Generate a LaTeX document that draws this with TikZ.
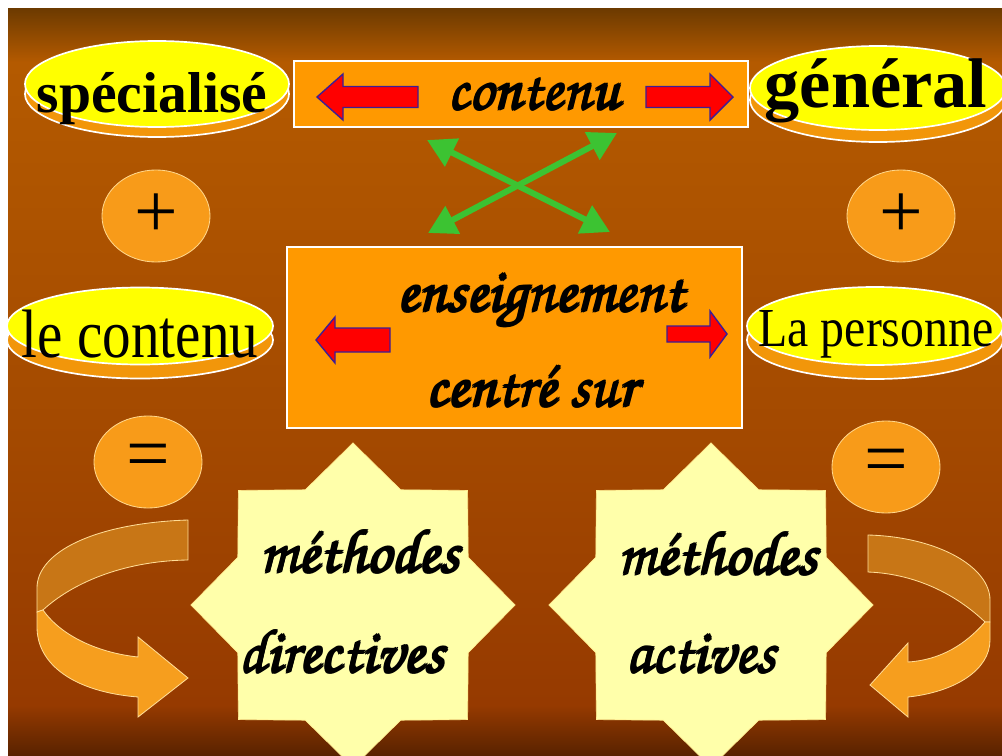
\documentclass[tikz,border=0pt]{standalone}
\usepackage[T1]{fontenc}
\usepackage{fontspec}
\setmainfont{Liberation Serif}
\usetikzlibrary{shapes.geometric, arrows.meta}

\definecolor{bgtop}{RGB}{108,58,0}
\definecolor{bglight}{RGB}{180,90,0}
\definecolor{bgmid}{RGB}{164,74,0}
\definecolor{bgdeep}{RGB}{150,58,0}
\definecolor{bgbot}{RGB}{88,34,0}
\definecolor{pillyellow}{RGB}{255,255,0}
\definecolor{pillorange}{RGB}{242,150,10}
\definecolor{discorange}{RGB}{248,155,25}
\definecolor{discedge}{RGB}{255,215,140}
\definecolor{boxorange}{RGB}{255,153,0}
\definecolor{arrowred}{RGB}{255,0,0}
\definecolor{arrowedge}{RGB}{60,30,150}
\definecolor{crossgreen}{RGB}{60,195,50}
\definecolor{starfill}{RGB}{255,255,170}
\definecolor{ribbonback}{RGB}{200,118,22}
\definecolor{ribbonfront}{RGB}{246,158,30}
\definecolor{ribbonedge}{RGB}{255,220,150}

\newcommand{\chorus}{\fontencoding{T1}\fontfamily{pzc}\fontseries{mb}\fontshape{it}\selectfont}
\newcommand{\inked}[1]{\makebox[0pt][l]{\kern1.1pt#1}\makebox[0pt][l]{\raisebox{1pt}{#1}}\makebox[0pt][l]{\raisebox{1pt}{\kern1.1pt#1}}\makebox[0pt][l]{\raisebox{.5pt}{\kern.55pt#1}}#1}

\tikzset{
  pill/.style={ellipse, fill=pillyellow, draw=white, line width=1.2pt, inner sep=0pt},
  pillbase/.style={ellipse, fill=pillorange, draw=white, line width=1.2pt, inner sep=0pt},
  disc/.style={ellipse, fill=discorange, draw=discedge, line width=0.6pt, minimum width=2.7cm, minimum height=2.3cm, inner sep=0pt, font=\fontsize{55}{60}\selectfont},
  panel/.style={rectangle, fill=boxorange, draw=white, line width=2pt, inner sep=0pt},
  blockarrow/.style={fill=arrowred, draw=arrowedge, line width=1pt},
  crossarrow/.style={draw=crossgreen, line width=4.3pt, {Triangle[length=0.7cm,width=0.75cm]}-{Triangle[length=0.7cm,width=0.75cm]}},
  badge/.style={star, star points=8, star point ratio=1.3, fill=starfill, draw=starfill!85!orange, line width=0.5pt, inner sep=0pt, minimum size=8.1cm},
  ribbon/.style={draw=ribbonedge, line width=0.6pt},
  script/.style={anchor=base, inner sep=0pt, font=\chorus\fontsize{44}{50}\selectfont},
  serif/.style={anchor=base, inner sep=0pt}
}

\begin{document}
\begin{tikzpicture}[x=0.025cm, y=-0.025cm]
\useasboundingbox (0,0) rectangle (1002,756);
\clip (0,0) rectangle (1002,756);

% slide background
\fill[white] (0,0) rectangle (1002,756);
\fill[bgmid] (8,8) rectangle (1002,756);
\shade[top color=bgtop, bottom color=bglight] (8,8) rectangle (1002,62);
\shade[top color=bglight, bottom color=bgmid] (8,62) rectangle (1002,420);
\shade[top color=bgmid, bottom color=bgdeep] (8,420) rectangle (1002,705);
\shade[top color=bgdeep, bottom color=bgbot] (8,705) rectangle (1002,756);

% top row
\node[pillbase, minimum width=6.6cm, minimum height=2.15cm] (specbase) at (157,94) {};
\node[pill, minimum width=6.6cm, minimum height=2.15cm] (spec) at (157,84) {};
\node[serif, font=\bfseries\fontsize{41}{46}\selectfont] (spectxt) at (152,112) {spécialisé};

\node[pillbase, minimum width=6.4cm, minimum height=2.1cm] (genbase) at (878,100) {};
\node[pill, minimum width=6.4cm, minimum height=2.1cm] (gen) at (878,88) {};
\node[serif, font=\bfseries\fontsize{50}{56}\selectfont] (gentxt) at (876,107) {général};

\node[panel, minimum width=11.35cm, minimum height=1.65cm] (topbox) at (521,94) {};
\node[script] (toptxt) at (533,110) {\inked{contenu}};
\filldraw[blockarrow] (418,86.5) -- (343,86.5) -- (343,74) -- (317,97) -- (343,120) -- (343,107.5) -- (418,107.5) -- cycle;
\filldraw[blockarrow] (646,86.5) -- (710,86.5) -- (710,74) -- (733,97) -- (710,120) -- (710,107.5) -- (646,107.5) -- cycle;

% green cross
\coordinate (xa1) at (427,140);
\coordinate (xa2) at (610,232);
\coordinate (xb1) at (428,233);
\coordinate (xb2) at (617,133);
\draw[crossarrow] (xa1) -- (xa2);
\draw[crossarrow] (xb1) -- (xb2);

% plus signs
\node[disc] (plusl) at (156,216) {+};
\node[disc] (plusr) at (901,216) {+};

% middle row
\node[pillbase, minimum width=6.65cm, minimum height=1.925cm] (contbase) at (140,340) {};
\node[pill, minimum width=6.65cm, minimum height=1.925cm] (cont) at (140,326) {};
\node[serif, font=\fontsize{40.6}{46}\selectfont] (conttxt) at (140,357) {\scalebox{1}[1.2]{le contenu}};

\node[pillbase, minimum width=6.4cm, minimum height=1.95cm] (persbase) at (875,340) {};
\node[pill, minimum width=6.4cm, minimum height=1.95cm] (pers) at (875,326) {};
\node[serif, font=\fontsize{34}{40}\selectfont] (perstxt) at (876,346) {\scalebox{1}[1.15]{La personne}};

\node[panel, minimum width=11.375cm, minimum height=4.525cm] (midbox) at (514.5,337.5) {};
\node[script] (midtxta) at (540,312) {\inked{enseignement}};
\node[script] (midtxtb) at (531,407) {\inked{centr\'e sur}};
\filldraw[blockarrow] (390,328) -- (335,328) -- (335,317) -- (316,340) -- (335,363) -- (335,352) -- (390,352) -- cycle;
\filldraw[blockarrow] (667,326) -- (710,326) -- (710,311) -- (727,334) -- (710,357) -- (710,342) -- (667,342) -- cycle;

% equal signs
\node[disc] (eql) at (148,462) {=};
\node[disc] (eqr) at (886,467) {=};

% curved ribbons
\filldraw[ribbon, fill=ribbonback] (188,520) .. controls (95,523) and (37,552) .. (37,588) -- (37,612) -- (43,610) .. controls (70,585) and (120,561) .. (188,560) -- cycle;
\filldraw[ribbon, fill=ribbonfront] (43,610) .. controls (62,637) and (100,653) .. (138,657) -- (138,637) -- (188,678) -- (138,717) -- (138,697) .. controls (75,692) and (37,665) .. (37,627) -- (37,612) -- cycle;
\filldraw[ribbon, fill=ribbonback] (868,535) .. controls (940,537) and (990,568) .. (990,600) -- (990,622) -- (985,622) .. controls (960,598) and (920,574) .. (868,572) -- cycle;
\filldraw[ribbon, fill=ribbonfront] (985,622) .. controls (965,645) and (940,660) .. (908,662) -- (908,643) -- (870,685) -- (908,717) -- (908,697) .. controls (955,692) and (990,670) .. (990,640) -- (990,622) -- cycle;

% stars
\node[badge] (stardir) at (353,605) {};
\node[script] (dirtxta) at (359,573) {\inked{m\'ethodes}};
\node[script] (dirtxtb) at (341,673) {\inked{directives}};

\node[badge] (staract) at (711,605) {};
\node[script] (acttxta) at (717,575) {\inked{m\'ethodes}};
\node[script] (acttxtb) at (700,673) {\inked{actives}};
\end{tikzpicture}
\end{document}
